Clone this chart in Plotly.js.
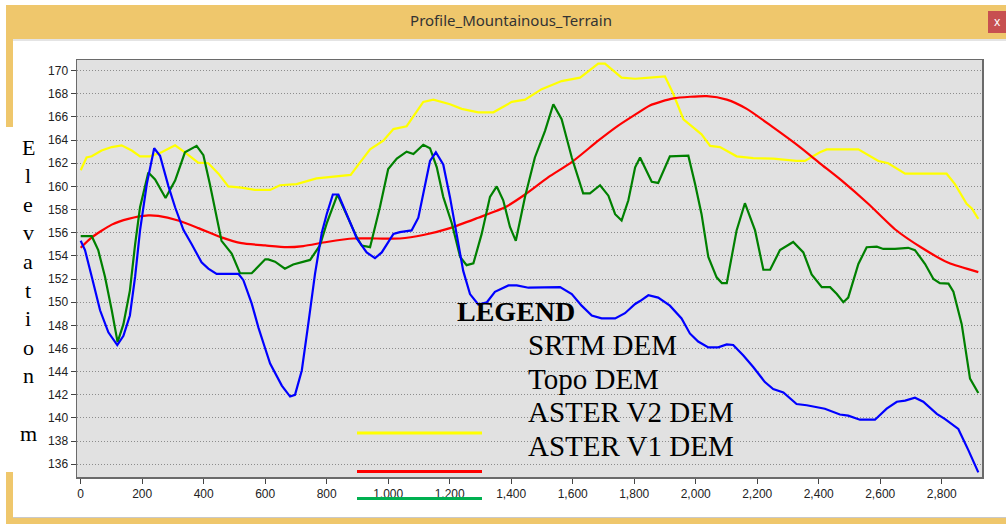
<!DOCTYPE html>
<html>
<head>
<meta charset="utf-8">
<script src="https://cdn.plot.ly/plotly-3.0.1.min.js"></script>
<style>
  html, body { margin: 0; padding: 0; background: #ffffff; }
  #chart { width: 1006px; height: 524px; }
</style>
</head>
<body>
<div id="chart"></div>
<script>
// ---- Data (distance in m, elevation in m) ----
var srtmX = [0,19,36,68,101,133,166,193,225,263,307,339,382,415,448,480,523,566,600,616,648,702,767,832,878,908,941,984,1017,1060,1114,1147,1201,1239,1293,1342,1402,1445,1499,1564,1624,1683,1705,1759,1803,1851,1900,1927,1960,2019,2047,2079,2133,2187,2252,2328,2355,2404,2426,2529,2594,2626,2681,2816,2843,2881,2898,2919];
var srtmY = [161.4,162.5,162.6,163.1,163.4,163.55,163.1,162.6,162.6,162.95,163.55,162.95,162.05,162.0,161.1,160.0,159.9,159.7,159.7,159.7,160.1,160.2,160.7,160.9,161.0,162.05,163.2,163.95,164.95,165.2,167.3,167.5,167.1,166.7,166.4,166.4,167.3,167.5,168.4,169.1,169.4,170.6,170.6,169.4,169.3,169.4,169.5,168.0,165.8,164.5,163.5,163.4,162.6,162.45,162.4,162.2,162.2,162.95,163.2,163.2,162.2,162.0,161.1,161.1,160.2,158.5,158.1,157.2];

var topoX = [0,36,101,155,220,252,317,383,458,523,600,670,724,800,887,963,1038,1114,1201,1293,1380,1445,1521,1597,1683,1748,1803,1851,1927,2036,2101,2166,2252,2339,2404,2475,2561,2648,2735,2822,2919];
var topoY = [154.7,155.6,156.7,157.2,157.5,157.45,157.05,156.4,155.6,155.1,154.9,154.75,154.85,155.2,155.5,155.5,155.5,155.8,156.4,157.3,158.2,159.3,160.8,162.1,163.95,165.25,166.2,167.0,167.6,167.8,167.5,166.7,165.1,163.4,162.0,160.5,158.5,156.3,154.7,153.4,152.6];

var asterV2X = [0,36,57,79,101,120,139,160,177,193,220,242,276,307,339,377,399,420,458,491,518,556,600,610,632,664,691,724,746,778,800,835,865,898,914,941,973,1000,1028,1060,1082,1114,1136,1158,1179,1207,1234,1255,1277,1304,1331,1353,1374,1396,1415,1445,1477,1510,1537,1564,1597,1634,1656,1689,1716,1738,1759,1781,1803,1819,1857,1878,1916,1976,1998,2019,2041,2068,2085,2101,2133,2160,2193,2220,2242,2274,2317,2350,2377,2410,2437,2459,2480,2496,2529,2556,2589,2610,2648,2691,2713,2746,2773,2794,2822,2838,2865,2892,2919];
var asterV2Y = [155.7,155.7,154.5,152.2,149.3,146.55,148.1,151.0,155.0,158.2,161.2,160.6,159.0,160.5,162.95,163.5,162.7,160.2,155.3,154.2,152.5,152.5,153.7,153.7,153.5,152.9,153.25,153.5,153.65,154.9,156.8,159.3,157.6,155.6,154.9,154.75,158.2,161.5,162.4,163.0,162.8,163.6,163.3,161.65,159.1,156.8,153.9,153.2,153.35,155.9,159.1,160.0,158.8,156.5,155.3,159.1,162.5,164.8,167.1,165.8,162.5,159.4,159.4,160.1,159.2,157.6,157.05,158.8,161.65,162.5,160.4,160.3,162.6,162.65,160.2,157.6,153.9,152.15,151.65,151.65,156.2,158.55,156.2,152.8,152.8,154.5,155.2,154.3,152.4,151.3,151.3,150.7,150.0,150.4,153.3,154.75,154.8,154.6,154.6,154.7,154.5,153.3,152.0,151.65,151.6,150.9,148.1,143.4,142.15];

var asterV1X = [0,14,36,63,90,119,139,160,177,193,215,239,258,285,307,334,361,393,415,442,513,529,556,578,600,616,654,681,697,719,740,762,784,800,820,838,865,898,930,957,979,1017,1038,1076,1098,1120,1136,1155,1179,1201,1223,1244,1266,1293,1321,1347,1391,1418,1456,1532,1559,1597,1629,1662,1694,1738,1770,1803,1819,1846,1878,1916,1954,1981,2008,2041,2073,2101,2122,2155,2187,2225,2252,2285,2328,2361,2404,2420,2469,2496,2534,2583,2621,2654,2681,2713,2740,2784,2811,2854,2887,2919];
var asterV1Y = [155.3,154.5,152.2,149.3,147.4,146.3,147.1,148.85,152.2,156.2,160.2,163.3,162.65,160.05,158.2,156.25,155.0,153.45,152.9,152.45,152.45,151.9,149.9,147.8,146.0,144.7,142.8,141.85,142.0,144.1,148.1,152.45,156.0,157.6,159.3,159.3,157.6,155.5,154.3,153.8,154.3,155.9,156.05,156.2,157.3,160.2,162.2,162.95,161.9,159.05,155.9,152.7,150.7,149.8,150.0,150.9,151.45,151.45,151.25,151.25,151.3,150.7,149.7,148.85,148.6,148.6,149.05,149.85,150.1,150.6,150.4,149.7,148.6,147.3,146.6,146.1,146.1,146.35,146.3,145.4,144.4,143.1,142.5,142.2,141.2,141.1,140.9,140.8,140.3,140.2,139.85,139.85,140.8,141.4,141.5,141.75,141.4,140.35,139.9,139.05,137.2,135.3];

var chartTitle = "Profile_Mountainous_Terrain";
var legendTitle = "LEGEND";
var seriesNames = ["SRTM DEM", "Topo DEM", "ASTER V2 DEM", "ASTER V1 DEM"];
var yTitleLetters = ["E","l","e","v","a","t","i","o","n","","m"];

// ---- Geometry helpers (pixel -> paper) ----
var W = 1006, H = 524;
var PL = 77, PR = 982, PT = 60, PB = 477;
function px(x) { return (x - PL) / (PR - PL); }
function py(y) { return (PB - y) / (PB - PT); }

var orange = "#efc76c";
function rect(x0, y0, x1, y1, color) {
  return {type: "rect", xref: "paper", yref: "paper", x0: px(x0), x1: px(x1), y0: py(y1), y1: py(y0),
          fillcolor: color, line: {width: 0}, layer: "below"};
}
function hline(x0, x1, y, color, w) {
  return {type: "line", xref: "paper", yref: "paper", x0: px(x0), x1: px(x1), y0: py(y), y1: py(y),
          line: {color: color, width: w}, layer: "above"};
}

var lineW = 2.2;
var traces = [
  {x: srtmX, y: srtmY, name: seriesNames[0], mode: "lines", line: {color: "#ffff00", width: lineW}},
  {x: topoX, y: topoY, name: seriesNames[1], mode: "lines", line: {color: "#ff0000", width: lineW, shape: "spline", smoothing: 0.6}},
  {x: asterV2X, y: asterV2Y, name: seriesNames[2], mode: "lines", line: {color: "#008000", width: lineW}},
  {x: asterV1X, y: asterV1Y, name: seriesNames[3], mode: "lines", line: {color: "#0000ff", width: lineW}}
];

var shapes = [
  rect(6, 5, 1006, 39, orange),
  {type: "line", xref: "paper", yref: "paper", x0: px(13), x1: px(1006), y0: py(40), y1: py(40), line: {color: "#c9c9c9", width: 1}, layer: "below"},
  rect(6, 39, 13, 127, orange),
  rect(6, 472, 13, 518, orange),
  rect(6, 518, 1006, 524, orange),
  {type: "line", xref: "paper", yref: "paper", x0: px(13), x1: px(1006), y0: py(517.5), y1: py(517.5), line: {color: "#c9c9c9", width: 1}, layer: "below"},
  rect(988, 11, 1006, 33, "#c75050"),
  hline(357, 482, 433, "#ffff00", 3),
  hline(357, 482, 471.5, "#ff0000", 3),
  hline(357, 482, 498.5, "#00b050", 3)
];

var annotations = [
  {xref: "paper", yref: "paper", x: px(997), y: py(22), text: "x", showarrow: false,
   font: {family: "Noto Sans, sans-serif", size: 12, color: "#ffffff"}, xanchor: "center", yanchor: "middle"},
  {xref: "paper", yref: "paper", x: px(455), y: py(311), text: "<b>" + legendTitle + "</b>", showarrow: false,
   font: {family: "Liberation Serif, Times New Roman, serif", size: 28, color: "#000000"}, xanchor: "left", yanchor: "middle"}
];
var legendY = [345, 379, 412, 446];
for (var i = 0; i < seriesNames.length; i++) {
  annotations.push({xref: "paper", yref: "paper", x: px(526), y: py(legendY[i]), text: seriesNames[i], showarrow: false,
    font: {family: "Liberation Serif, Times New Roman, serif", size: 29, color: "#000000"}, xanchor: "left", yanchor: "middle"});
}
for (var j = 0; j < yTitleLetters.length; j++) {
  if (!yTitleLetters[j]) continue;
  annotations.push({xref: "paper", yref: "paper", x: px(28), y: py(147 + j * 28.6), text: yTitleLetters[j], showarrow: false,
    font: {family: "Liberation Serif, Times New Roman, serif", size: 22, color: "#000000"}, xanchor: "center", yanchor: "middle"});
}

var tickFont = {family: "Liberation Sans, Arial, sans-serif", size: 12, color: "#222222"};
var layout = {
  width: W, height: H, autosize: false,
  margin: {l: PL, r: W - PR, t: PT, b: H - PB, pad: 0},
  paper_bgcolor: "#ffffff",
  plot_bgcolor: "#e1e1e1",
  showlegend: false,
  title: {text: chartTitle, x: 511 / W, xref: "container", xanchor: "center",
          y: 1 - 21 / H, yref: "container", yanchor: "middle",
          font: {family: "Noto Sans, Open Sans, sans-serif", size: 15, color: "#333333"}},
  xaxis: {range: [-12, 2931], tickmode: "linear", tick0: 0, dtick: 200, tickformat: ",d",
          ticks: "outside", ticklen: 5, tickcolor: "#444444", showgrid: false, zeroline: false,
          showline: true, linecolor: "#6a6a6a", linewidth: 1.5, mirror: true, tickfont: tickFont},
  yaxis: {range: [134.9, 170.92], tickmode: "linear", tick0: 136, dtick: 2,
          ticks: "outside", ticklen: 5, tickcolor: "#444444", showgrid: true, gridcolor: "#8c8c8c",
          griddash: "1px,2px", gridwidth: 1, zeroline: false,
          showline: true, linecolor: "#6a6a6a", linewidth: 1.5, mirror: true, tickfont: tickFont},
  shapes: shapes,
  annotations: annotations
};

Plotly.newPlot("chart", traces, layout, {displayModeBar: false, staticPlot: true});
</script>
</body>
</html>
